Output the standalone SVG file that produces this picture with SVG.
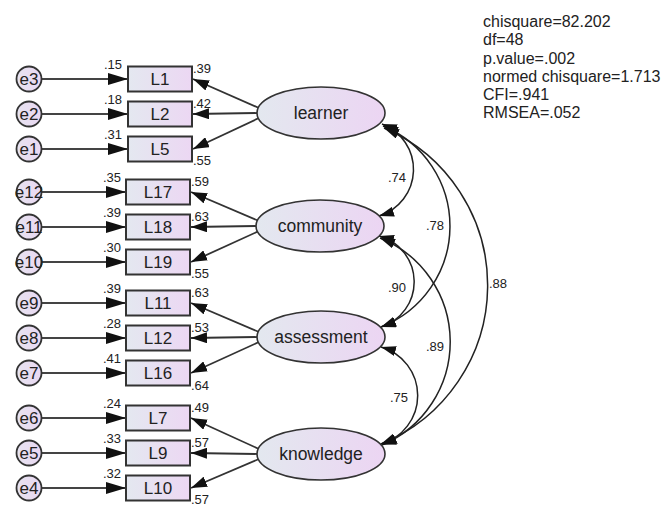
<svg xmlns="http://www.w3.org/2000/svg" width="661" height="505" viewBox="0 0 661 505">
<defs>
<linearGradient id="gl" x1="0" y1="0" x2="1" y2="0"><stop offset="0" stop-color="#e3e8ef"/><stop offset="1" stop-color="#ecd5f3"/></linearGradient>
<linearGradient id="gb" x1="0" y1="0" x2="1" y2="0"><stop offset="0" stop-color="#e4e8f0"/><stop offset="1" stop-color="#ecd7f3"/></linearGradient>
<linearGradient id="ge" x1="0" y1="0" x2="1" y2="0"><stop offset="0" stop-color="#e6e3f0"/><stop offset="1" stop-color="#ead8f2"/></linearGradient>
<marker id="ae" markerUnits="userSpaceOnUse" markerWidth="20" markerHeight="12" refX="20" refY="6" orient="auto"><path d="M0,0 L20,6 L0,12 z" fill="#111"/></marker>
<marker id="al" markerUnits="userSpaceOnUse" markerWidth="16" markerHeight="11" refX="16" refY="5.5" orient="auto"><path d="M0,0 L16,5.5 L0,11 z" fill="#111"/></marker>
<marker id="ac" markerUnits="userSpaceOnUse" markerWidth="15" markerHeight="10" refX="15" refY="5" orient="auto-start-reverse"><path d="M0,0 L15,5 L0,10 z" fill="#111"/></marker>
</defs>
<style>
.t{font-family:"Liberation Sans",Arial,sans-serif;fill:#222}
.n{font-size:13px}
.lab{font-size:17px;text-anchor:middle}
.lat{font-size:17.5px;text-anchor:middle}
.st{font-size:16px}
.box{fill:url(#gb);stroke:#333;stroke-width:2}
.lv{fill:url(#gl);stroke:#333;stroke-width:1.6}
.er{fill:url(#ge);stroke:#333;stroke-width:1.8}
.el{stroke:#444;stroke-width:2.2;fill:none}
.ll{stroke:#333;stroke-width:1.8;fill:none}
.cv{stroke:#222;stroke-width:1.5;fill:none}
</style>
<rect width="661" height="505" fill="#fff"/>

<g id="connectors">
<!-- error arrows -->
<line class="el" x1="41.5" y1="79" x2="128" y2="79" marker-end="url(#ae)"/>
<line class="el" x1="41.5" y1="114" x2="128" y2="114" marker-end="url(#ae)"/>
<line class="el" x1="41.5" y1="149" x2="128" y2="149" marker-end="url(#ae)"/>
<line class="el" x1="41.5" y1="192" x2="126" y2="192" marker-end="url(#ae)"/>
<line class="el" x1="41.5" y1="227" x2="126" y2="227" marker-end="url(#ae)"/>
<line class="el" x1="41.5" y1="262" x2="126" y2="262" marker-end="url(#ae)"/>
<line class="el" x1="41.5" y1="303" x2="126" y2="303" marker-end="url(#ae)"/>
<line class="el" x1="41.5" y1="338" x2="126" y2="338" marker-end="url(#ae)"/>
<line class="el" x1="41.5" y1="373" x2="126" y2="373" marker-end="url(#ae)"/>
<line class="el" x1="41.5" y1="418" x2="126" y2="418" marker-end="url(#ae)"/>
<line class="el" x1="41.5" y1="453" x2="126" y2="453" marker-end="url(#ae)"/>
<line class="el" x1="41.5" y1="488" x2="126" y2="488" marker-end="url(#ae)"/>
<!-- loadings -->
<line class="ll" x1="259" y1="108" x2="193" y2="79" marker-end="url(#al)"/>
<line class="ll" x1="257" y1="113" x2="193" y2="114" marker-end="url(#al)"/>
<line class="ll" x1="259" y1="118" x2="193" y2="149" marker-end="url(#al)"/>
<line class="ll" x1="259" y1="221" x2="191" y2="192" marker-end="url(#al)"/>
<line class="ll" x1="257" y1="226" x2="191" y2="227" marker-end="url(#al)"/>
<line class="ll" x1="259" y1="231" x2="191" y2="262" marker-end="url(#al)"/>
<line class="ll" x1="259" y1="332" x2="191" y2="303" marker-end="url(#al)"/>
<line class="ll" x1="257" y1="337" x2="191" y2="338" marker-end="url(#al)"/>
<line class="ll" x1="259" y1="342" x2="191" y2="373" marker-end="url(#al)"/>
<line class="ll" x1="259" y1="449" x2="191" y2="418" marker-end="url(#al)"/>
<line class="ll" x1="257" y1="454" x2="191" y2="453" marker-end="url(#al)"/>
<line class="ll" x1="259" y1="459" x2="191" y2="488" marker-end="url(#al)"/>
<!-- covariances -->
<path class="cv" d="M382,124 A48.6,48.6 0 0 1 379,216" marker-start="url(#ac)" marker-end="url(#ac)"/>
<path class="cv" d="M383,126 A108.3,108.3 0 0 1 381,327" marker-start="url(#ac)" marker-end="url(#ac)"/>
<path class="cv" d="M384,128 A171.3,171.3 0 0 1 381,444" marker-start="url(#ac)" marker-end="url(#ac)"/>
<path class="cv" d="M379,236 A47.4,47.4 0 0 1 381,327" marker-start="url(#ac)" marker-end="url(#ac)"/>
<path class="cv" d="M380,238 A112,112 0 0 1 382,445" marker-start="url(#ac)" marker-end="url(#ac)"/>
<path class="cv" d="M381,347 A50.4,50.4 0 0 1 381,444" marker-start="url(#ac)" marker-end="url(#ac)"/>
<!-- values -->
<g class="t n">
<text x="104" y="68.5">.15</text><text x="104" y="103.5">.18</text><text x="104" y="138.5">.31</text>
<text x="103" y="181.5">.35</text><text x="103" y="216.5">.39</text><text x="103" y="251.5">.30</text>
<text x="103" y="292.5">.39</text><text x="103" y="327.5">.28</text><text x="103" y="362.5">.41</text>
<text x="103" y="407.5">.24</text><text x="103" y="442.5">.33</text><text x="103" y="477.5">.32</text>
<text x="193" y="72.5">.39</text><text x="193" y="107.5">.42</text><text x="193" y="164.5">.55</text>
<text x="191" y="185.5">.59</text><text x="191" y="220.5">.63</text><text x="191" y="277.5">.55</text>
<text x="191" y="296.5">.63</text><text x="191" y="331.5">.53</text><text x="191" y="389.5">.64</text>
<text x="191" y="411.5">.49</text><text x="191" y="446.5">.57</text><text x="191" y="503.5">.57</text>
<text x="388" y="181.5">.74</text><text x="426" y="230">.78</text><text x="489" y="288">.88</text>
<text x="388" y="291.5">.90</text><text x="426" y="351">.89</text><text x="390" y="401.5">.75</text>
</g>
</g>

<g id="e3"><circle class="er" cx="29" cy="79" r="12.5"/><text class="t lab" x="29" y="85">e3</text></g>
<g id="e2"><circle class="er" cx="29" cy="114" r="12.5"/><text class="t lab" x="29" y="120">e2</text></g>
<g id="e1"><circle class="er" cx="29" cy="149" r="12.5"/><text class="t lab" x="29" y="155">e1</text></g>
<g id="e12"><circle class="er" cx="29" cy="192" r="12.5"/><text class="t lab" x="29" y="198">e12</text></g>
<g id="e11"><circle class="er" cx="29" cy="227" r="12.5"/><text class="t lab" x="29" y="233">e11</text></g>
<g id="e10"><circle class="er" cx="29" cy="262" r="12.5"/><text class="t lab" x="29" y="268">e10</text></g>
<g id="e9"><circle class="er" cx="29" cy="303" r="12.5"/><text class="t lab" x="29" y="309">e9</text></g>
<g id="e8"><circle class="er" cx="29" cy="338" r="12.5"/><text class="t lab" x="29" y="344">e8</text></g>
<g id="e7"><circle class="er" cx="29" cy="373" r="12.5"/><text class="t lab" x="29" y="379">e7</text></g>
<g id="e6"><circle class="er" cx="29" cy="418" r="12.5"/><text class="t lab" x="29" y="424">e6</text></g>
<g id="e5"><circle class="er" cx="29" cy="453" r="12.5"/><text class="t lab" x="29" y="459">e5</text></g>
<g id="e4"><circle class="er" cx="29" cy="488" r="12.5"/><text class="t lab" x="29" y="494">e4</text></g>

<g id="L1"><rect class="box" x="128" y="66.5" width="64" height="25"/><text class="t lab" x="160" y="85">L1</text></g>
<g id="L2"><rect class="box" x="128" y="101.5" width="64" height="25"/><text class="t lab" x="160" y="120">L2</text></g>
<g id="L5"><rect class="box" x="128" y="136.5" width="64" height="25"/><text class="t lab" x="160" y="155">L5</text></g>
<g id="L17"><rect class="box" x="126" y="179.5" width="64" height="25"/><text class="t lab" x="158" y="198">L17</text></g>
<g id="L18"><rect class="box" x="126" y="214.5" width="64" height="25"/><text class="t lab" x="158" y="233">L18</text></g>
<g id="L19"><rect class="box" x="126" y="249.5" width="64" height="25"/><text class="t lab" x="158" y="268">L19</text></g>
<g id="L11"><rect class="box" x="126" y="290.5" width="64" height="25"/><text class="t lab" x="158" y="309">L11</text></g>
<g id="L12"><rect class="box" x="126" y="325.5" width="64" height="25"/><text class="t lab" x="158" y="344">L12</text></g>
<g id="L16"><rect class="box" x="126" y="360.5" width="64" height="25"/><text class="t lab" x="158" y="379">L16</text></g>
<g id="L7"><rect class="box" x="126" y="405.5" width="64" height="25"/><text class="t lab" x="158" y="424">L7</text></g>
<g id="L9"><rect class="box" x="126" y="440.5" width="64" height="25"/><text class="t lab" x="158" y="459">L9</text></g>
<g id="L10"><rect class="box" x="126" y="475.5" width="64" height="25"/><text class="t lab" x="158" y="494">L10</text></g>

<g id="learner"><ellipse class="lv" cx="321" cy="113" rx="64" ry="26"/><text class="t lat" x="321" y="119">learner</text></g>
<g id="community"><ellipse class="lv" cx="320" cy="226" rx="64" ry="26"/><text class="t lat" x="320" y="232">community</text></g>
<g id="assessment"><ellipse class="lv" cx="321" cy="337" rx="64" ry="26"/><text class="t lat" x="321" y="343">assessment</text></g>
<g id="knowledge"><ellipse class="lv" cx="321" cy="454" rx="64" ry="26"/><text class="t lat" x="321" y="460">knowledge</text></g>

<g id="fit" class="t st">
<text x="483" y="27">chisquare=82.202</text>
<text x="483" y="45">df=48</text>
<text x="483" y="63.5">p.value=.002</text>
<text x="483" y="82">normed chisquare=1.713</text>
<text x="483" y="100">CFI=.941</text>
<text x="483" y="118">RMSEA=.052</text>
</g>
</svg>
